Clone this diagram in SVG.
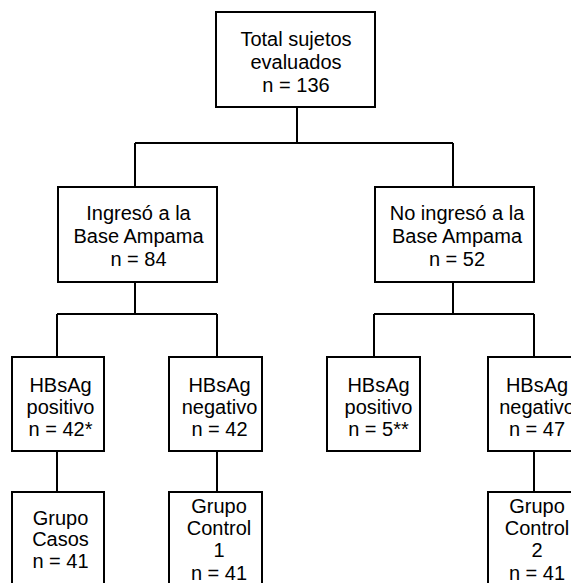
<svg xmlns="http://www.w3.org/2000/svg" width="571" height="583" viewBox="0 0 571 583">
<style>
.box{fill:#fff;stroke:#000;stroke-width:2}
.ln{fill:none;stroke:#000;stroke-width:2}
text{font-family:"Liberation Sans",Arial,sans-serif;font-size:20px;fill:#000;text-anchor:middle}
</style>
<rect width="571" height="583" fill="#fff"/>
<g id="connectors">
<path class="ln" d="M297 107V143M135 143H453M135 143V187M453 143V187"/>
<path class="ln" d="M135 282V314M57 314H217M57 314V357M217 314V357"/>
<path class="ln" d="M453 282V314M374 314H534M374 314V357M534 314V357"/>
<path class="ln" d="M57 451V492M217 451V492M534 451V492"/>
</g>
<g id="total">
<rect class="box" x="216" y="12" width="159" height="95"/>
<text x="296" y="46">Total sujetos</text>
<text x="296" y="69">evaluados</text>
<text x="296" y="92">n = 136</text>
</g>
<g id="ingreso">
<rect class="box" x="58" y="187" width="159" height="95"/>
<text x="138.5" y="220">Ingresó a la</text>
<text x="138.5" y="243">Base Ampama</text>
<text x="138.5" y="266">n = 84</text>
</g>
<g id="no-ingreso">
<rect class="box" x="375" y="187" width="159" height="95"/>
<text x="457" y="220">No ingresó a la</text>
<text x="457" y="243">Base Ampama</text>
<text x="457" y="266">n = 52</text>
</g>
<g id="pos1">
<rect class="box" x="12" y="357" width="92" height="94"/>
<text x="60.5" y="392">HBsAg</text>
<text x="60.5" y="414">positivo</text>
<text x="60.5" y="436">n = 42*</text>
</g>
<g id="neg1">
<rect class="box" x="169" y="357" width="93" height="94"/>
<text x="219.5" y="392">HBsAg</text>
<text x="219.5" y="414">negativo</text>
<text x="219.5" y="436">n = 42</text>
</g>
<g id="pos2">
<rect class="box" x="327" y="357" width="93" height="94"/>
<text x="378.5" y="392">HBsAg</text>
<text x="378.5" y="414">positivo</text>
<text x="378.5" y="436">n = 5**</text>
</g>
<g id="neg2">
<rect class="box" x="488" y="357" width="93" height="94"/>
<text x="537" y="392">HBsAg</text>
<text x="537" y="414">negativo</text>
<text x="537" y="436">n = 47</text>
</g>
<g id="casos">
<rect class="box" x="12" y="492" width="92" height="100"/>
<text x="60.5" y="525">Grupo</text>
<text x="60.5" y="546">Casos</text>
<text x="60.5" y="568">n = 41</text>
</g>
<g id="control1">
<rect class="box" x="169" y="492" width="93" height="100"/>
<text x="219" y="513">Grupo</text>
<text x="219" y="535">Control</text>
<text x="219" y="557">1</text>
<text x="219" y="580">n = 41</text>
</g>
<g id="control2">
<rect class="box" x="488" y="492" width="93" height="100"/>
<text x="537" y="513">Grupo</text>
<text x="537" y="535">Control</text>
<text x="537" y="557">2</text>
<text x="537" y="580">n = 41</text>
</g>
</svg>
